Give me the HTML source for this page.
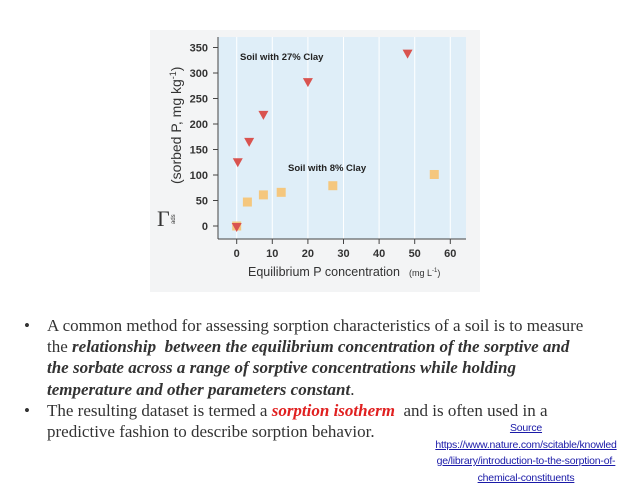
<!DOCTYPE html>
<html><head><meta charset="utf-8"><style>
body{margin:0;width:638px;height:478px;background:#fff;overflow:hidden;position:relative;font-family:"Liberation Serif",serif}
.b{position:absolute;left:24px;font-size:17px;color:#333;line-height:21px}
.t{position:absolute;left:47px;width:590px;font-size:17px;line-height:21.2px;color:#333}
.src{position:absolute;left:426px;width:200px;text-align:center;font-family:"Liberation Sans",sans-serif;font-size:10.5px;line-height:16.5px;color:#1a1aa8;text-decoration:underline;letter-spacing:-0.2px}
</style></head><body>
<svg id="chart" width="638" height="300" style="position:absolute;left:0;top:0" font-family="Liberation Sans, sans-serif">
<rect x="150" y="30" width="330" height="262" fill="#f3f4f5"/>
<rect x="218" y="37" width="248" height="202" fill="#dfeef8"/>
<g id="grid"></g><g id="axes"></g><g id="marks"></g>
<text x="240" y="60" font-size="9.5" font-weight="bold" fill="#222">Soil with 27% Clay</text>
<text x="288" y="171" font-size="9.5" font-weight="bold" fill="#222">Soil with 8% Clay</text>
<text x="248" y="276" font-size="12.5" fill="#333">Equilibrium P concentration</text>
<text x="409" y="276" font-size="9" fill="#333">(mg L<tspan dy="-4" font-size="6">-1</tspan><tspan dy="4">)</tspan></text>
<text transform="translate(181,184) rotate(-90)" font-size="14" fill="#333">(sorbed P, mg kg<tspan dy="-5" font-size="9">-1</tspan><tspan dy="5">)</tspan></text>
<text x="157" y="226" font-size="22" fill="#333" font-family="Liberation Serif, serif">Γ</text>
<text transform="translate(175,224) rotate(-90)" font-size="6" fill="#333">ads</text>
</svg>
<script>
const xTicks=[0,10,20,30,40,50,60];
const yTicks=[0,50,100,150,200,250,300,350];
const clay27X=[0,0.3,3.5,7.5,20,48];
const clay27Y=[-2,125,165,218,282,338];
const clay8X=[0,3,7.5,12.5,27,55.5];
const clay8Y=[0,47,61,66,79,101];
const X=v=>236.7+v*3.56, Y=v=>226-v*0.51;
const ns="http://www.w3.org/2000/svg";
function mk(t,a,p){const e=document.createElementNS(ns,t);for(const k in a)e.setAttribute(k,a[k]);document.getElementById(p).appendChild(e);return e;}
let e=mk('line',{x1:218,y1:37,x2:218,y2:239,stroke:'#444','stroke-width':1},'axes');


e=mk('line',{x1:218,y1:239,x2:466,y2:239,stroke:'#444','stroke-width':1},'axes');


xTicks.forEach(v=>{
 e=mk('line',{x1:X(v),y1:37,x2:X(v),y2:239,stroke:'#fff','stroke-width':1},'grid');
 
 
 e=mk('line',{x1:X(v),y1:239,x2:X(v),y2:244,stroke:'#444'},'axes');
 
 
 e=mk('text',{x:X(v),y:257,'text-anchor':'middle','font-size':11,'font-weight':'bold',fill:'#333'},'axes');e.textContent=v;
 
 
});
yTicks.forEach(v=>{
 e=mk('line',{x1:213,y1:Y(v),x2:218,y2:Y(v),stroke:'#444'},'axes');
 
 
 e=mk('text',{x:208,y:Y(v)+4,'text-anchor':'end','font-size':11,'font-weight':'bold',fill:'#333'},'axes');e.textContent=v;
 
 
});
clay8X.forEach((x,i)=>{
 e=mk('rect',{x:X(x)-4.5,y:Y(clay8Y[i])-4.5,width:9,height:9,fill:'#f5c77e'},'marks');
 
 
});
clay27X.forEach((x,i)=>{
 const cx=X(x),cy=Y(clay27Y[i]);
 e=mk('polygon',{points:`${cx-5},${cy-4} ${cx+5},${cy-4} ${cx},${cy+5}`,fill:'#d9534f'},'marks');
 
 
});
</script>
<div class="b" style="top:315px">•</div>
<div class="t" style="top:315px">A common method for assessing sorption characteristics of a soil is to measure<br>the <b><i>relationship &nbsp;between the equilibrium concentration of the sorptive and<br>the sorbate across a range of sorptive concentrations while holding<br>temperature and other parameters constant</i></b>.</div>
<div class="b" style="top:400px">•</div>
<div class="t" style="top:400px">The resulting dataset is termed a <b><i style="color:#e02020">sorption isotherm</i></b> &nbsp;and is often used in a<br>predictive fashion to describe sorption behavior.</div>
<div class="src" style="top:420px">Source<br>https://www.nature.com/scitable/knowled<br>ge/library/introduction-to-the-sorption-of-<br>chemical-constituents</div>
</body></html>
